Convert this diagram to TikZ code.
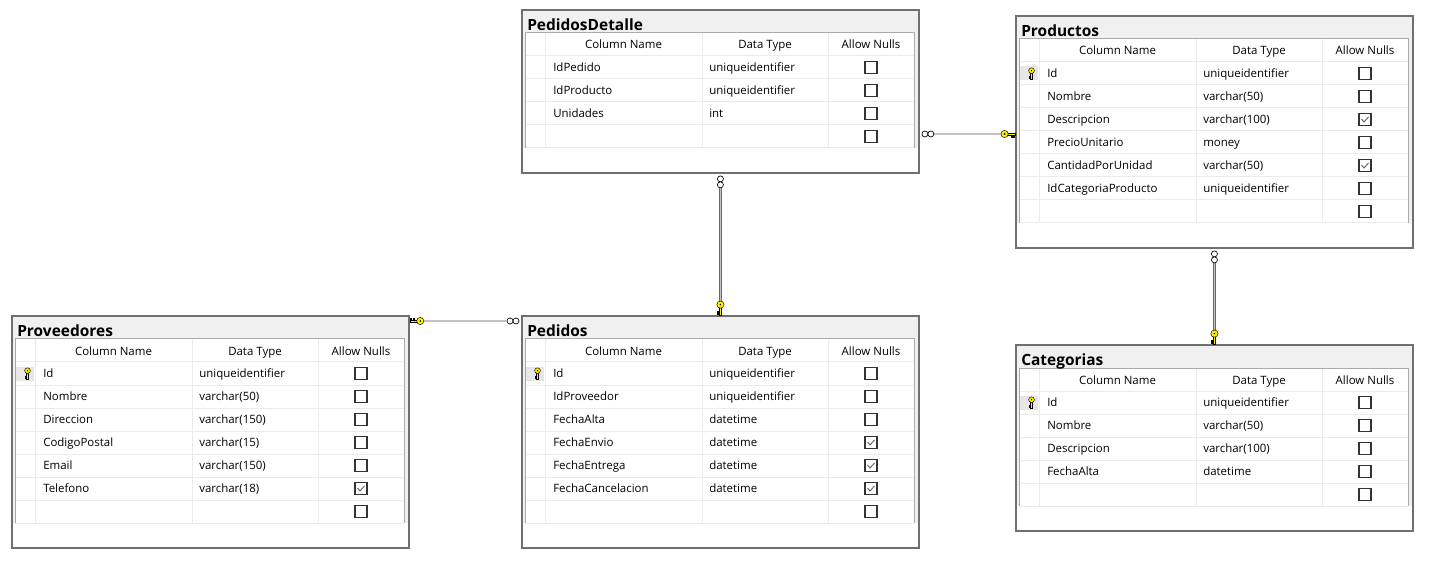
\documentclass[tikz,border=0pt]{standalone}
\usepackage{fontspec}
\setmainfont{Open Sans}
\usetikzlibrary{calc}

\definecolor{framegray}{RGB}{112,112,112}
\definecolor{bandgray}{RGB}{240,240,240}
\definecolor{gridgray}{RGB}{170,170,170}
\definecolor{rulegray}{RGB}{235,235,235}
\definecolor{cellgray}{RGB}{230,230,230}
\definecolor{boxgray}{RGB}{51,51,51}
\definecolor{tickgray}{RGB}{100,100,100}
\definecolor{keyyellow}{RGB}{255,240,0}
\definecolor{linkdark}{RGB}{105,105,105}
\definecolor{linklight}{RGB}{195,195,195}

\tikzset{
  tableframe/.style={draw=framegray, line width=1.4pt, inner sep=0pt, anchor=north west},
  gridrule/.style={draw=gridgray, line width=0.75pt},
  cellrule/.style={draw=rulegray, line width=0.75pt},
  tabletitle/.style={font=\fontsize{11.6}{13}\selectfont\bfseries, anchor=base west, inner sep=0pt},
  colhead/.style={font=\fontsize{8.6}{10}\selectfont, anchor=base, inner sep=0pt},
  celltext/.style={font=\fontsize{8.6}{10}\selectfont, anchor=base west, inner sep=0pt},
  nullbox/.style={draw=boxgray, line width=0.8pt, fill=white},
  nulltick/.style={draw=tickgray, line width=0.7pt},
  keyline/.style={draw=black, fill=keyyellow, line width=0.35pt},
  relline/.style={draw=linkdark, double=linklight, double distance=0.8pt, line width=0.65pt},
  manyend/.style={shorten <=10.9pt},
  oneend/.style={shorten >=10.2pt},
  pics/keyicon/.style={code={
    \filldraw[keyline] (-8,-1.2) rectangle (0,1.2);
    \filldraw[keyline] (-4,-1.2) rectangle (-3,-3.2);
    \filldraw[keyline] (-1.8,-1.2) rectangle (-0.8,-2.8);
    \filldraw[keyline] (-10.4,0) circle (3.6);
    \fill[black] (-10.4,0) circle (0.9);
  }},
  pics/manyicon/.style={code={
    \draw[black, fill=white, line width=0.5pt] (5,0) circle (3) (11,0) circle (3);
  }},
}

% #1 node name, #2 top left, #3 title, #4 number of columns, #5 name/type/null/key
\newcommand{\erdtable}[5]{%
  \begin{scope}[shift={#2}]
    \pgfmathtruncatemacro{\nlines}{#4+2}
    \pgfmathsetmacro{\gridbot}{24+23*(#4+2)}
    \pgfmathsetmacro{\framebot}{\gridbot+24}
    \fill[white] (0,0) rectangle (397,\framebot);
    \fill[bandgray] (0,0) rectangle (397,\gridbot);
    \fill[white] (4,24) rectangle (393,\gridbot);
    \foreach \k in {1,...,\nlines}
      \draw[cellrule] (4,24+23*\k) -- (393,24+23*\k);
    \foreach \cx in {24,181,307}
      \draw[cellrule] (\cx,24) -- (\cx,\gridbot);
    \draw[gridrule] (4,\gridbot) -- (4,24) -- (393,24) -- (393,\gridbot);
    \node[tableframe, minimum width=397*0.75pt, minimum height=\framebot*0.75pt] (#1) at (0,0) {};
    \node[tabletitle] (#1-title) at (6,21.5) {#3};
    % header
    \node[colhead] (#1-hname) at (102.5,40) {Column Name};
    \node[colhead] (#1-htype) at (244,40) {Data Type};
    \node[colhead] (#1-hnull) at (350,40) {Allow Nulls};
    % rows
    \foreach [count=\i] \cname/\ctype/\cnull/\ckey in {#5} {
      \pgfmathsetmacro{\ry}{24+23*\i+11.5}
      \ifnum\ckey=1
        \fill[cellgray] (5,\ry-7) rectangle (23,\ry+7);
        \pic[rotate=-90, scale=0.8] at (16.5,\ry+5.5) {keyicon};
      \fi
      \node[celltext] (#1-n\i) at (32,\ry+4.2) {\cname};
      \node[celltext] (#1-t\i) at (188,\ry+4.2) {\ctype};
      \draw[nullbox] (344,\ry-6) rectangle (356,\ry+6);
      \ifnum\cnull=1
        \draw[nulltick] (346.5,\ry-0.5) -- (349,\ry+2.5) -- (353.5,\ry-2.5);
      \fi
    }
    % empty row
    \pgfmathsetmacro{\ry}{24+23*(#4+1)+11.5}
    \draw[nullbox] (344,\ry-6) rectangle (356,\ry+6);
  \end{scope}}

\begin{document}
\begin{tikzpicture}[x=0.75pt,y=0.75pt,yscale=-1,xscale=1]
\fill[white] (0,0) rectangle (1439,577);
\useasboundingbox (0,0) rectangle (1439,577);

% Tables
\erdtable{pdet}{(521,9)}{PedidosDetalle}{3}{IdPedido/uniqueidentifier/0/0, IdProducto/uniqueidentifier/0/0, Unidades/int/0/0}
\erdtable{prod}{(1015,15)}{Productos}{6}{Id/uniqueidentifier/0/1, Nombre/varchar(50)/0/0, Descripcion/varchar(100)/1/0, PrecioUnitario/money/0/0, CantidadPorUnidad/varchar(50)/1/0, IdCategoriaProducto/uniqueidentifier/0/0}
\erdtable{prov}{(11,315)}{Proveedores}{6}{Id/uniqueidentifier/0/1, Nombre/varchar(50)/0/0, Direccion/varchar(150)/0/0, CodigoPostal/varchar(15)/0/0, Email/varchar(150)/0/0, Telefono/varchar(18)/1/0}
\erdtable{ped}{(521,315)}{Pedidos}{6}{Id/uniqueidentifier/0/1, IdProveedor/uniqueidentifier/0/0, FechaAlta/datetime/0/0, FechaEnvio/datetime/1/0, FechaEntrega/datetime/1/0, FechaCancelacion/datetime/1/0}
\erdtable{cat}{(1015,344)}{Categorias}{4}{Id/uniqueidentifier/0/1, Nombre/varchar(50)/0/0, Descripcion/varchar(100)/0/0, FechaAlta/datetime/0/0}

% Links
\coordinate (pd-many) at ($(pdet.north east)+(0,125)$);
\coordinate (pd-one) at (prod.west |- pd-many);
\draw[relline, manyend, oneend] (pd-many) -- (pd-one);
\pic at (pd-many) {manyicon};
\pic at (pd-one) {keyicon};

\coordinate (pp-one) at ($(prov.north east)+(0,6)$);
\coordinate (pp-many) at (ped.west |- pp-one);
\draw[relline, manyend, oneend] (pp-many) -- (pp-one);
\pic[rotate=180] at (pp-many) {manyicon};
\pic[rotate=180] at (pp-one) {keyicon};

\draw[relline, manyend, oneend] (pdet.south) -- (ped.north);
\pic[rotate=-90] at (pdet.south) {manyicon};
\pic[rotate=-90] at (ped.north) {keyicon};

\draw[relline, manyend, oneend] (prod.south) -- (cat.north);
\pic[rotate=-90] at (prod.south) {manyicon};
\pic[rotate=-90] at (cat.north) {keyicon};
\end{tikzpicture}
\end{document}
